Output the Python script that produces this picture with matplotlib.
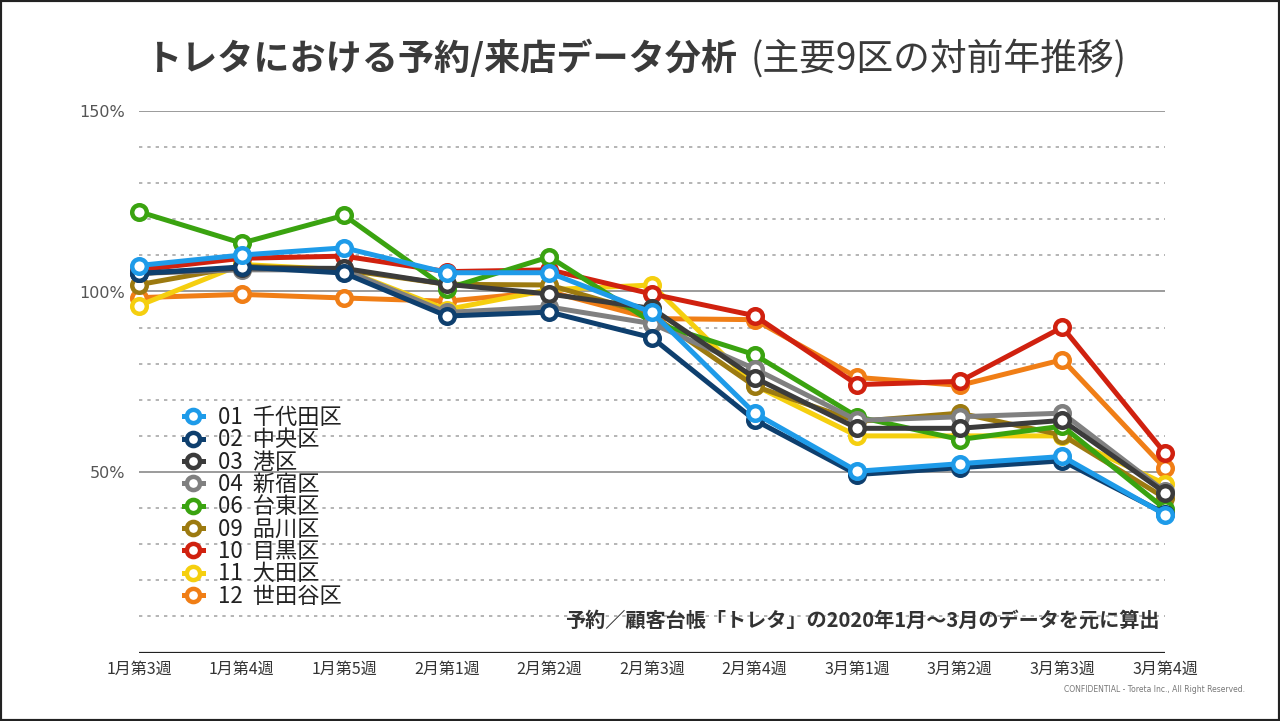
import matplotlib
matplotlib.use("Agg")
import matplotlib.pyplot as plt
from matplotlib.patches import Rectangle

plt.rcParams['font.family'] = ['Noto Sans CJK JP', 'DejaVu Sans']

weeks = ["1月第3週", "1月第4週", "1月第5週", "2月第1週", "2月第2週", "2月第3週",
         "2月第4週", "3月第1週", "3月第2週", "3月第3週", "3月第4週"]

labels = ["01  千代田区", "02  中央区", "03  港区", "04  新宿区", "06  台東区",
          "09  品川区", "10  目黒区", "11  大田区", "12  世田谷区"]

s01 = [107.2, 110.1, 112.1, 105.2, 105.2, 94.2, 66.3, 50.2, 52.3, 54.3, 38.2]
s02 = [105.0, 106.8, 105.1, 93.2, 94.3, 87.2, 64.4, 49.3, 51.2, 53.1, 38.5]
s03 = [105.0, 106.5, 106.4, 102.0, 99.3, 95.3, 76.1, 62.1, 62.1, 64.3, 44.3]
s04 = [105.0, 106.0, 106.0, 94.2, 95.7, 91.1, 78.6, 64.3, 65.3, 66.3, 44.6]
s06 = [122.1, 113.4, 121.1, 100.8, 109.6, 91.5, 82.5, 65.3, 59.0, 62.7, 39.8]
s09 = [101.9, 107.0, 106.0, 102.0, 101.8, 93.5, 73.8, 64.0, 66.3, 60.2, 42.8]
s10 = [106.0, 109.2, 109.8, 105.5, 106.0, 99.3, 93.3, 74.2, 75.1, 90.1, 55.2]
s11 = [96.1, 107.5, 106.0, 95.0, 100.5, 101.8, 74.0, 60.0, 60.0, 60.0, 46.7]
s12 = [98.3, 99.2, 98.2, 97.3, 100.0, 92.5, 92.2, 76.2, 74.0, 81.1, 51.0]
series = [s01, s02, s03, s04, s06, s09, s10, s11, s12]

colors = ["#1E9BE9", "#0E3F6E", "#3B3B3B", "#808080", "#3AA310",
          "#9C7A10", "#D0210F", "#F5CF0F", "#F07E16"]

ytick_vals = [50, 100, 150]
ytick_labels = ["50%", "100%", "150%"]

fig = plt.figure(figsize=(12.8, 7.21), dpi=100)
fig.patch.set_facecolor("white")
ax = fig.add_axes([139/1280, 1 - 652.5/721, (1165-139)/1280, (652.5-111)/721])

# grid lines
for v in range(10, 151, 10):
    if v % 50 == 0:
        ax.axhline(v, color="#8a8a8a", lw=1.2, zorder=1)
    else:
        ax.axhline(v, color="#a8a8a8", lw=1.2, ls=(0, (2, 3)), zorder=1)
ax.axhline(0, color="#222222", lw=1.6, zorder=1)

x = list(range(len(weeks)))
n = len(series)
handles = []
for i, (vals, c, lab) in enumerate(zip(series, colors, labels)):
    h, = ax.plot(x, vals, color=c, lw=3.6, marker="o", markersize=10.5,
                 markerfacecolor="white", markeredgecolor=c, markeredgewidth=3.2,
                 label=lab, zorder=10 + (n - i), clip_on=False)
    handles.append(h)

ax.set_xlim(0, len(weeks) - 1)
ax.set_ylim(0, 150)
ax.set_xticks(x)
ax.set_xticklabels(weeks, fontsize=11.5, color="#333333")
ax.set_yticks(ytick_vals)
ax.set_yticklabels(ytick_labels, fontsize=11.5, color="#555555", family=["DejaVu Sans"])
ax.tick_params(axis="both", length=0)
ax.tick_params(axis="y", pad=10)
ax.tick_params(axis="x", pad=6)
for sp in ax.spines.values():
    sp.set_visible(False)

leg = ax.legend(handles=handles, loc="upper left",
                bbox_to_anchor=(184/1280, 1 - 406/721), bbox_transform=fig.transFigure,
                frameon=False, fontsize=16, handlelength=0.85, handletextpad=0.7,
                labelspacing=-0.03, borderpad=0, borderaxespad=0)
for t in leg.get_texts():
    t.set_color("#222222")
for lh in leg.get_lines():
    lh.set_markersize(9.5)

# title
t1 = fig.text(145/1280, 1 - 70/721, "トレタにおける予約/来店データ分析", fontsize=26,
              fontweight="bold", color="#3a3a3a", ha="left", va="baseline")
fig.canvas.draw()
bb = t1.get_window_extent()
fig.text((bb.x1 + 14)/1280, 1 - 70/721, "(主要9区の対前年推移)", fontsize=26.5,
         color="#3a3a3a", ha="left", va="baseline")

# note
fig.text(1160/1280, 1 - 620/721, "予約／顧客台帳「トレタ」の2020年1月〜3月のデータを元に算出",
         fontsize=14.5, fontweight="bold", color="#333333", ha="right", va="center")
fig.text(1245/1280, 1 - 689/721, "CONFIDENTIAL - Toreta Inc., All Right Reserved.",
         fontsize=5.5, color="#777777", ha="right", va="center", family=["DejaVu Sans"])

fig.patches.append(Rectangle((0, 0), 1, 1, transform=fig.transFigure, fill=False,
                             edgecolor="#222222", linewidth=3, zorder=100))

fig.savefig("out.png", dpi=100)
